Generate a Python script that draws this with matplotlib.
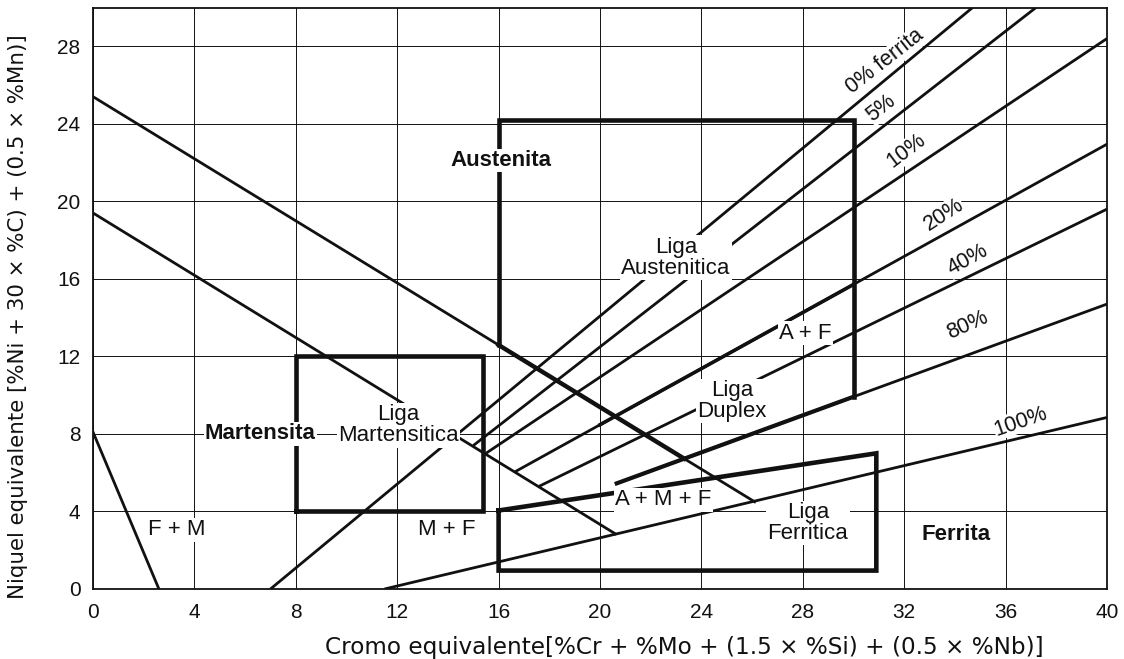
import matplotlib
matplotlib.use('Agg')
import matplotlib.pyplot as plt
import numpy as np

plt.rcParams['font.family'] = ['Liberation Sans', 'DejaVu Sans']

INK = '#111111'

# grid / ticks
x_ticks = [0, 4, 8, 12, 16, 20, 24, 28, 32, 36, 40]
y_ticks = [0, 4, 8, 12, 16, 20, 24, 28]

# iso-ferrite lines (start -> end, in Cr eq / Ni eq)
ferrite_x0 = [7.0, 15.0, 15.5, 16.65, 17.6, 20.66, 11.5]
ferrite_y0 = [0.0, 7.4, 7.0, 6.05, 5.3, 5.45, 0.0]
ferrite_x1 = [34.7, 37.2, 40.0, 40.0, 40.0, 40.0, 40.0]
ferrite_y1 = [30.0, 30.0, 28.4, 22.95, 19.6, 14.7, 8.85]

# descending boundaries
line_a_x = [0, 26.1]
line_a_y = [25.4, 4.5]
line_b_x = [0, 20.6]
line_b_y = [19.4, 2.85]
fm_x = [0, 2.6]
fm_y = [8.1, 0]

# alloy boxes
aust_x = [16, 16, 30, 30]
aust_y = [12.6, 24.2, 24.2, 9.9]
mart_x = [8, 8, 15.4, 15.4, 8]
mart_y = [4, 12, 12, 4, 4]
ferr_x = [16, 16, 30.9, 30.9, 16]
ferr_y = [4.05, 0.95, 0.95, 7.0, 4.05]

# percent labels along the lines
pct_text = ['0% ferrita', '5%', '10%', '20%', '40%', '80%', '100%']
pct_x = [31.25, 31.1, 32.1, 33.55, 34.5, 34.5, 36.6]
pct_y = [27.2, 24.8, 22.6, 19.3, 17.0, 13.6, 8.65]
pct_rot = [38, 38, 37, 33, 29, 24, 19]

# region labels
reg_text = ['Austenita', 'Martensita', 'Ferrita', 'Liga\nAustenitica', 'Liga\nMartensitica',
            'Liga\nDuplex', 'Liga\nFerritica', 'A + F', 'A + M + F', 'M + F', 'F + M']
reg_x = [16.1, 6.6, 34.05, 23.0, 12.05, 25.2, 28.2, 28.1, 22.5, 13.95, 3.3]
reg_y = [22.1, 8.0, 2.8, 17.1, 8.45, 9.7, 3.4, 13.2, 4.6, 3.05, 3.05]
reg_bold = [True, True, True, False, False, False, False, False, False, False, False]

fig = plt.figure(figsize=(11.24, 6.59), dpi=100)
ax = fig.add_axes([93 / 1124, 70 / 659, 1014 / 1124, 581.5 / 659])
ax.set_xlim(0, 40)
ax.set_ylim(0, 30)
ax.set_xticks(x_ticks)
ax.set_yticks(y_ticks)
ax.set_axisbelow(True)
ax.grid(color=INK, linewidth=0.7)
ax.tick_params(length=0, labelsize=15, colors=INK)
ax.tick_params(axis='x', pad=10)
ax.tick_params(axis='y', pad=9)
for sp in ax.spines.values():
    sp.set_color(INK)
    sp.set_linewidth(1.3)

lw = 2.0
for x0, y0, x1, y1 in zip(ferrite_x0, ferrite_y0, ferrite_x1, ferrite_y1):
    ax.plot([x0, x1], [y0, y1], color=INK, lw=lw, solid_capstyle='butt', zorder=2)
ax.plot(line_a_x, line_a_y, color=INK, lw=lw, zorder=2)
ax.plot(line_b_x, line_b_y, color=INK, lw=lw, zorder=2)
ax.plot(fm_x, fm_y, color=INK, lw=lw, zorder=2)

# heavier duplex boundaries: line A down to the 80% line, then the 80% line up to x=30
ka = (line_a_y[1] - line_a_y[0]) / (line_a_x[1] - line_a_x[0])
k80 = (ferrite_y1[5] - ferrite_y0[5]) / (ferrite_x1[5] - ferrite_x0[5])
xi = (ferrite_y0[5] - k80 * ferrite_x0[5] - line_a_y[0]) / (ka - k80)
ax.plot([aust_x[0], xi], [line_a_y[0] + ka * aust_x[0], line_a_y[0] + ka * xi],
        color=INK, lw=3.2, zorder=3)
ax.plot([ferrite_x0[5], aust_x[-1]], [ferrite_y0[5], ferrite_y0[5] + k80 * (aust_x[-1] - ferrite_x0[5])],
        color=INK, lw=3.0, zorder=3)
k20 = (ferrite_y1[3] - ferrite_y0[3]) / (ferrite_x1[3] - ferrite_x0[3])
ax.plot([20, 30], [ferrite_y0[3] + k20 * (20 - ferrite_x0[3]), ferrite_y0[3] + k20 * (30 - ferrite_x0[3])],
        color=INK, lw=2.6, zorder=3)

for bx, by in [(aust_x, aust_y), (mart_x, mart_y), (ferr_x, ferr_y)]:
    ax.plot(bx, by, color=INK, lw=3.3, solid_joinstyle='miter', zorder=3)

for t, x, y, r in zip(pct_text, pct_x, pct_y, pct_rot):
    ax.text(x, y, t, rotation=r, rotation_mode='anchor', ha='center', va='center',
            fontsize=15.5, color=INK, zorder=5,
            bbox=dict(facecolor='white', edgecolor='none', pad=0.5))

for t, x, y, b in zip(reg_text, reg_x, reg_y, reg_bold):
    ax.text(x, y, t, ha='center', va='center', multialignment='center', linespacing=1.0,
            fontsize=16, fontweight='bold' if b else 'normal', color=INK, zorder=5,
            bbox=dict(facecolor='white', edgecolor='none', pad=1.0))

ax.set_xlabel('Cromo equivalente[%Cr + %Mo + (1.5 × %Si) + (0.5 × %Nb)]',
              fontsize=16.7, color=INK, family=['DejaVu Sans'])
ax.xaxis.set_label_coords(0.583, -0.1)
ax.xaxis.label.set_va('center')
ax.set_ylabel('Niquel equivalente [%Ni + 30 × %C) + (0.5 × %Mn)]',
              fontsize=15.4, color=INK, family=['DejaVu Sans'])
ax.yaxis.set_label_coords(-0.074, 0.469)
ax.yaxis.label.set_va('center')

fig.savefig('out.png', dpi=100)
